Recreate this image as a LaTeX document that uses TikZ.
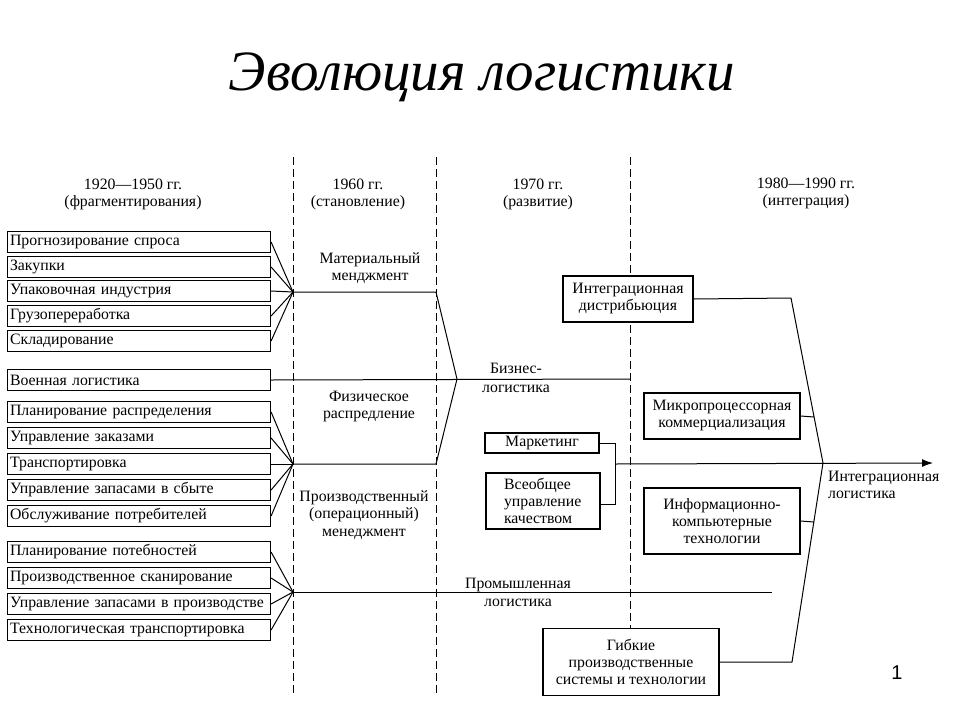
\documentclass[tikz,border=0pt]{standalone}
\usepackage{fontspec}
\setmainfont{Liberation Serif}
\setsansfont{Liberation Sans}
\usetikzlibrary{arrows.meta, positioning}

\begin{document}
\begin{tikzpicture}[x=1pt, y=-1pt, font=\fontsize{15.8}{17}\selectfont,
  box/.style={draw, fill=white, line width=1.1pt, inner sep=3pt},
  sbox/.style={box, inner xsep=2.5pt, text width=258pt, minimum height=21pt,
    align=left, anchor=west},
  lbl/.style={align=center, inner sep=1pt},
  era/.style={dash pattern=on 8pt off 4pt, line width=1pt},
  link/.style={line width=1pt}]
  \useasboundingbox (0,0) rectangle (960,720);
  % title
  \node (title) at (482,77) {\fontsize{57}{57}\selectfont\itshape Эволюция логистики};
  % period borders
  \draw[era] (293,157) -- (293,693);
  \draw[era] (436,157) -- (436,693);
  \draw[era] (630,157) -- (630,628);
  % period headers
  \node[lbl] (h1) at (133,194) {1920—1950 гг.\\(фрагментирования)};
  \node[lbl] (h2) at (358,194) {1960 гг.\\(становление)};
  \node[lbl] (h3) at (538,194) {1970 гг.\\(развитие)};
  \node[lbl] (h4) at (806,193) {1980—1990 гг.\\(интеграция)};
  % functions of the first period
  \node[sbox] (p1) at (7,242) {Прогнозирование спроса};
  \node[sbox] (p2) at (7,267) {Закупки};
  \node[sbox] (p3) at (7,291) {Упаковочная индустрия};
  \node[sbox] (p4) at (7,316) {Грузопереработка};
  \node[sbox] (p5) at (7,341) {Складирование};
  \node[sbox] (v) at (7,380) {Военная логистика};
  \node[sbox] (d1) at (7,412) {Планирование распределения};
  \node[sbox] (d2) at (7,438) {Управление заказами};
  \node[sbox] (d3) at (7,464) {Транспортировка};
  \node[sbox] (d4) at (7,490) {Управление запасами в сбыте};
  \node[sbox] (d5) at (7,516) {Обслуживание потребителей};
  \node[sbox] (q1) at (7,552) {Планирование потебностей};
  \node[sbox] (q2) at (7,578) {Производственное сканирование};
  \node[sbox] (q3) at (7,604) {Управление запасами в производстве};
  \node[sbox] (q4) at (7,630) {Технологическая транспортировка};
  % junctions
  \coordinate (c1) at (293,292);
  \coordinate (c2) at (293,464);
  \coordinate (c3) at (293,592);
  \coordinate (k1) at (436,292);
  \coordinate (k2) at (436,464);
  \coordinate (bz) at (457,379);
  \coordinate (be) at (630,379);
  \coordinate (pe) at (772,592);
  \foreach \i in {1,...,5} \draw[link] (p\i.east) -- (c1);
  \foreach \i in {1,...,5} \draw[link] (d\i.east) -- (c2);
  \foreach \i in {1,...,4} \draw[link] (q\i.east) -- (c3);
  % second period
  \node[lbl] (mm) at (370,268) {Материальный\\менджмент};
  \node[lbl] (fr) at (369,407) {Физическое\\распредление};
  \node[lbl, font=\fontsize{15.8}{17.5}\selectfont] (pm) at (364,515)
    {Производственный\\(операционный)\\менеджмент};
  \draw[link] (c1) -- (k1) -- (bz);
  \draw[link] (c2) -- (k2) -- (bz);
  \draw[link] (v.east) -- (be);
  \draw[link] (c3) -- (pe);
  \node[lbl] (bl) at (516,378) {Бизнес-\\[2pt]логистика};
  \node[lbl] (pl) at (518,592) {Промышленная\\[1pt]логистика};
  % third period
  \node[box, lbl, minimum width=130pt, minimum height=46pt] (id) at (628,299)
    {Интеграционная\\дистрибьюция};
  \node[box, minimum width=114pt, minimum height=20pt] (mk) at (542,443) {Маркетинг};
  \node[box, text width=78pt, align=left, minimum width=114pt, minimum height=56pt]
    (tq) at (543,501) {Всеобщее\\управление\\качеством};
  \coordinate (br1) at (615,443);
  \coordinate (br2) at (615,504);
  \coordinate (bm) at (615,464);
  \draw[link] (mk.east) -- (br1) -- (br2) -- (tq.east |- br2);
  % fourth period
  \node[box, lbl, minimum width=156pt, minimum height=46pt] (mp) at (722,416)
    {Микропроцессорная\\коммерциализация};
  \node[box, lbl, minimum width=156pt, minimum height=66pt] (ik) at (722,521)
    {Информационно-\\компьютерные\\технологии};
  \node[box, lbl, minimum width=176pt, minimum height=67pt] (gp) at (631,662)
    {Гибкие\\производственные\\системы и технологии};
  \coordinate (ie) at (791,298);
  \coordinate (x) at (823,463);
  \coordinate (ge) at (792,662);
  \coordinate (mj) at (814,417);
  \coordinate (ij) at (814,522);
  \coordinate (ar) at (933,463);
  \draw[link] (id.east) -- (ie) -- (x) -- (ge) -- (gp.east);
  \draw[link] (mp.east) -- (mj);
  \draw[link] (ik.east) -- (ij);
  \draw[link, -{Latex[length=11pt, width=8pt]}] (bm) -- (ar);
  \node[anchor=north west, align=left, inner sep=1pt] (il) at (827,470)
    {Интеграционная\\логистика};
  % slide number
  \node[font=\sffamily\fontsize{20}{20}\selectfont] (num) at (897,673) {1};
\end{tikzpicture}
\end{document}
